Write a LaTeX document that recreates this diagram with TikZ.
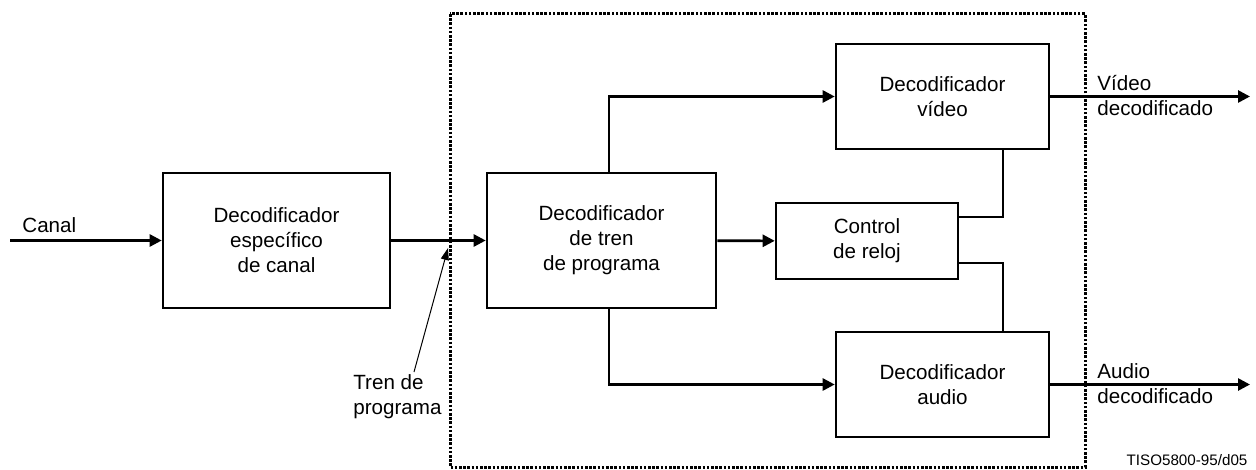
\documentclass[tikz,border=0pt]{standalone}
\usepackage{fontspec}
\setmainfont{Liberation Sans}
\usetikzlibrary{arrows.meta}

\begin{document}
\begin{tikzpicture}[x=0.5pt, y=-0.5pt,
      every node/.style = {font=\fontsize{10.3}{12.5}\selectfont, align=center, inner sep=0pt},
      bloque/.style = {draw, rectangle, line width=1.3pt},
      grande/.style = {minimum width=113.5pt, minimum height=67.5pt},
      decod/.style = {minimum width=106.5pt, minimum height=52.5pt},
      flecha/.style = {line width=1.3pt, -{Triangle[length=6pt, width=6pt]}},
      linea/.style = {line width=1.3pt}]
    \useasboundingbox (0,0) rectangle (1256,470);
    % receptor (dotted)
    \draw[line width=1.5pt, dash pattern=on 1.3pt off 0.8pt] (450,14) rectangle (1085,467);

    \node[bloque, grande] (canal) at (276.5,240.5) {Decodificador\\específico\\de canal};
    \node[bloque, grande, minimum width=114.5pt] (programa) at (601.5,240.5) {Decodificador\\de tren\\de programa};
    \node[bloque, minimum width=91pt, minimum height=38pt] (reloj) at (867,241) {Control\\de reloj};
    \node[bloque, decod] (video) at (942.5,96.5) {Decodificador\\vídeo};
    \node[bloque, decod] (audio) at (942.5,384.5) {Decodificador\\audio};

    \coordinate (entrada) at (10,240.5);
    \coordinate (salvideo) at (1250,96.5);
    \coordinate (salaudio) at (1250,384.5);
    \node[anchor=base west] (etcanal) at (22,232) {Canal};
    \node[anchor=west, align=left] (etvideo) at (1097,96) {Vídeo\\decodificado};
    \node[anchor=west, align=left] (etaudio) at (1097,384) {Audio\\decodificado};
    \node[anchor=west, align=left] (ettren) at (353,397) {Tren de\\programa};
    \node[font=\fontsize{7.6}{9}\selectfont] (codigo) at (1187,460) {TISO5800-95/d05};

    \draw[flecha] (entrada) -- (canal);
    \draw[flecha] (canal) -- (programa);
    \draw[flecha] (programa) -- (reloj);
    \draw[flecha] ([xshift=3.75pt]programa.north) |- (video);
    \draw[flecha] ([xshift=3.75pt]programa.south) |- (audio);
    \draw[linea] ([xshift=30.25pt]video.south) |- ([yshift=12pt]reloj.east);
    \draw[linea] ([xshift=30.25pt]audio.north) |- ([yshift=-11pt]reloj.east);
    \draw[flecha] (video) -- (salvideo);
    \draw[flecha] (audio) -- (salaudio);

    \coordinate (trenpie) at (414,372);
    \coordinate (trenpunta) at (448,248);
    \draw[line width=0.5pt, -{Triangle[length=6pt, width=4pt]}] (trenpie) -- (trenpunta);
\end{tikzpicture}
\end{document}
